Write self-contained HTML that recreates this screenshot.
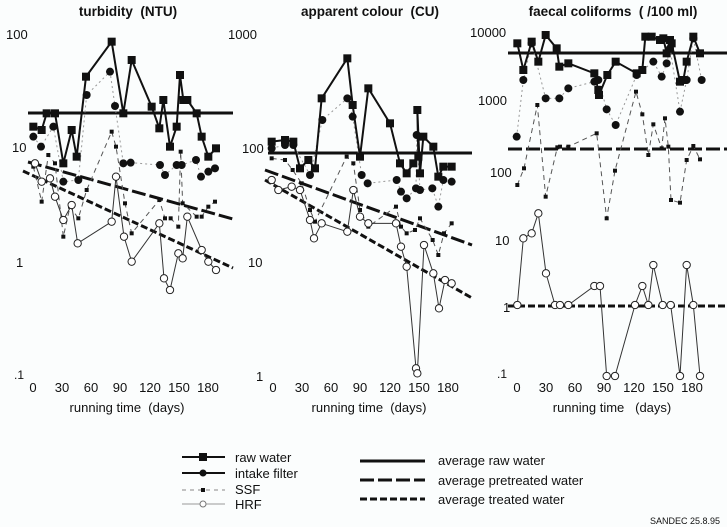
<!DOCTYPE html>
<html><head><meta charset="utf-8"><style>
html,body{margin:0;padding:0;background:#fbfdfd;}
svg{display:block;font-family:"Liberation Sans",Arial,sans-serif;}
text{white-space:pre;}
</style></head><body>
<svg width="727" height="527" viewBox="0 0 727 527" xmlns="http://www.w3.org/2000/svg">
<defs>
<marker id="mR" markerUnits="userSpaceOnUse" markerWidth="30" markerHeight="30" refX="15" refY="15" viewBox="0 0 30 30"><rect x="3" y="3" width="24" height="24" fill="#111"/></marker>
<marker id="mI" markerUnits="userSpaceOnUse" markerWidth="30" markerHeight="30" refX="15" refY="15" viewBox="0 0 30 30"><circle cx="15" cy="15" r="12" fill="#111"/></marker>
<marker id="mS" markerUnits="userSpaceOnUse" markerWidth="30" markerHeight="30" refX="15" refY="15" viewBox="0 0 30 30"><rect x="9" y="9" width="12" height="12" fill="#111"/></marker>
<marker id="mH" markerUnits="userSpaceOnUse" markerWidth="30" markerHeight="30" refX="15" refY="15" viewBox="0 0 30 30"><circle cx="15" cy="15" r="11" fill="#fff" stroke="#222" stroke-width="3"/></marker>
</defs>
<rect width="727" height="527" fill="#fbfdfd"/>
<g font-weight="bold" font-size="13.5" fill="#111" text-anchor="middle">
<text x="128" y="16">turbidity  (NTU)</text>
<text x="370" y="16">apparent colour  (CU)</text>
<text x="613" y="16">faecal coliforms  ( /100 ml)</text>
</g>
<g font-size="13" fill="#111">
<text x="6" y="39">100</text><text x="12" y="152">10</text><text x="16" y="267">1</text><text x="14" y="379" font-size="12">.1</text>
<text x="228" y="39">1000</text><text x="242" y="153">100</text><text x="248" y="267">10</text><text x="256" y="381">1</text>
<text x="470" y="37">10000</text><text x="478" y="105">1000</text><text x="490" y="177">100</text><text x="495" y="245">10</text><text x="503" y="312">1</text><text x="497" y="378" font-size="12">.1</text>
</g>
<g font-size="13" fill="#111" text-anchor="middle">
<text x="33" y="392">0</text><text x="62" y="392">30</text><text x="91" y="392">60</text><text x="120" y="392">90</text><text x="150" y="392">120</text><text x="179" y="392">150</text><text x="208" y="392">180</text>
<text x="273" y="392">0</text><text x="302" y="392">30</text><text x="331" y="392">60</text><text x="360" y="392">90</text><text x="390" y="392">120</text><text x="419" y="392">150</text><text x="448" y="392">180</text>
<text x="517" y="392">0</text><text x="546" y="392">30</text><text x="575" y="392">60</text><text x="604" y="392">90</text><text x="634" y="392">120</text><text x="663" y="392">150</text><text x="692" y="392">180</text>
<text x="127" y="412">running time  (days)</text>
<text x="369" y="412">running time  (days)</text>
<text x="612" y="412">running time   (days)</text>
</g>

<!-- averages -->
<g stroke="#111" stroke-width="3" fill="none">
<line x1="28" y1="113" x2="233" y2="113"/>
<line x1="28" y1="162" x2="233" y2="219" stroke-dasharray="14,4"/>
<line x1="23" y1="171" x2="233" y2="268" stroke-dasharray="7,3"/>
<line x1="268" y1="153" x2="472" y2="153"/>
<line x1="265" y1="170" x2="472" y2="245" stroke-dasharray="14,4"/>
<line x1="265" y1="180" x2="472" y2="298" stroke-dasharray="7,3"/>
<line x1="508" y1="53" x2="727" y2="53"/>
<line x1="508" y1="149" x2="727" y2="149" stroke-dasharray="14,4"/>
<line x1="508" y1="306" x2="727" y2="306" stroke-dasharray="7,3"/>
</g>

<!-- panel 1 -->
<g transform="scale(0.33333)" fill="none">
<polyline stroke="#555" stroke-width="3" stroke-dasharray="15,12" marker-start="url(#mS)" marker-mid="url(#mS)" marker-end="url(#mS)" points="100,500 125,605 145,465 165,490 190,710 210,620 235,655 260,570 335,395 348,440 375,610 395,700 478,600 495,655 512,655 535,680 542,455 548,610 590,650 605,650 625,620 645,605"/>
<polyline stroke="#999" stroke-width="3" stroke-dasharray="6,9" marker-start="url(#mI)" marker-mid="url(#mI)" marker-end="url(#mI)" points="100,410 123,440 160,380 190,545 235,540 260,285 330,215 345,318 370,490 392,488 480,495 495,525 530,495 545,495 588,480 603,530 625,515 645,505"/>
<polyline stroke="#333" stroke-width="3" marker-start="url(#mH)" marker-mid="url(#mH)" marker-end="url(#mH)" points="105,490 125,545 150,535 165,590 190,660 215,615 233,730 335,665 348,530 372,710 395,785 478,670 492,835 510,870 535,760 548,775 562,650 605,750 625,785 648,810"/>
<polyline stroke="#111" stroke-width="6" marker-start="url(#mR)" marker-mid="url(#mR)" marker-end="url(#mR)" points="100,380 125,390 140,340 165,340 190,490 215,390 230,470 258,230 335,125 370,340 395,180 455,320 478,385 490,300 510,440 530,380 540,225 550,300 562,300 590,340 605,410 625,470 648,445"/>
</g>

<!-- panel 2 -->
<g transform="translate(240,0) scale(0.33333)" fill="none">
<polyline stroke="#555" stroke-width="3" stroke-dasharray="15,12" marker-start="url(#mS)" marker-mid="url(#mS)" marker-end="url(#mS)" points="95,475 135,480 158,510 185,550 210,630 225,665 320,470 340,490 360,630 385,680 468,620 483,680 500,700 525,690 540,655 578,720 595,765 612,700 635,670"/>
<polyline stroke="#999" stroke-width="3" stroke-dasharray="6,9" marker-start="url(#mI)" marker-mid="url(#mI)" marker-end="url(#mI)" points="95,445 135,435 160,435 210,525 247,360 322,295 338,350 365,525 383,550 470,540 483,575 500,595 528,565 530,405 540,570 577,565 595,620 610,540 635,545"/>
<polyline stroke="#333" stroke-width="3" marker-start="url(#mH)" marker-mid="url(#mH)" marker-end="url(#mH)" points="95,540 115,570 155,560 180,570 210,660 222,715 245,670 322,695 340,570 360,650 385,670 468,670 483,740 500,800 528,1105 532,1120 552,735 580,820 597,925 615,840 635,850"/>
<polyline stroke="#111" stroke-width="6" marker-start="url(#mR)" marker-mid="url(#mR)" marker-end="url(#mR)" points="95,425 135,420 160,425 180,505 205,480 225,505 245,295 322,175 338,315 360,470 385,265 450,370 480,490 500,520 520,490 535,470 532,330 540,520 550,410 580,440 595,530 610,500 635,500"/>
</g>

<!-- panel 3 -->
<g transform="translate(480,0) scale(0.33333)" fill="none">
<polyline stroke="#555" stroke-width="3" stroke-dasharray="15,12" marker-start="url(#mS)" marker-mid="url(#mS)" marker-end="url(#mS)" points="112,555 132,505 172,315 197,590 232,442 240,440 265,440 350,400 380,655 405,512 468,275 487,343 505,465 520,373 545,445 555,355 565,440 573,600 600,608 620,480 640,438 660,478"/>
<polyline stroke="#999" stroke-width="3" stroke-dasharray="6,9" marker-start="url(#mI)" marker-mid="url(#mI)" marker-end="url(#mI)" points="110,410 130,240 155,130 197,295 238,295 265,265 343,245 355,240 380,328 407,375 470,225 520,185 545,230 560,190 570,145 600,335 620,240 640,115 665,240"/>
<polyline stroke="#333" stroke-width="3" marker-start="url(#mH)" marker-mid="url(#mH)" marker-end="url(#mH)" points="112,915 130,715 155,700 175,640 198,820 225,915 240,915 265,915 343,858 360,858 380,1128 405,1128 465,915 487,858 505,915 520,795 548,915 572,915 600,1128 620,795 640,915 660,1128"/>
<polyline stroke="#111" stroke-width="6" marker-start="url(#mR)" marker-mid="url(#mR)" marker-end="url(#mR)" points="112,130 130,210 155,125 175,185 197,105 230,145 238,200 265,190 343,220 355,270 357,285 382,225 407,185 470,220 487,210 496,110 515,110 540,120 550,115 560,160 570,120 575,130 600,245 610,240 620,185 640,110 660,160"/>
</g>

<!-- legend -->
<g stroke="#111">
<line x1="182" y1="457" x2="225" y2="457" stroke-width="2"/>
<line x1="182" y1="473" x2="225" y2="473" stroke-width="2"/>
<line x1="182" y1="490" x2="225" y2="490" stroke-width="1" stroke-dasharray="4,4" stroke="#888"/>
<line x1="182" y1="504" x2="225" y2="504" stroke-width="1" stroke="#999"/>
<line x1="360" y1="461" x2="425" y2="461" stroke-width="3"/>
<line x1="360" y1="480" x2="425" y2="480" stroke-width="3" stroke-dasharray="14,4"/>
<line x1="360" y1="499" x2="425" y2="499" stroke-width="3" stroke-dasharray="7,3"/>
</g>
<rect x="199" y="453" width="8" height="8" fill="#111"/>
<circle cx="203" cy="473" r="3.5" fill="#111"/>
<rect x="201" y="488" width="4" height="4" fill="#111"/>
<circle cx="203" cy="504" r="3" fill="#fff" stroke="#777"/>
<g font-size="13" fill="#111">
<text x="235" y="462">raw water</text>
<text x="235" y="478">intake filter</text>
<text x="235" y="494">SSF</text>
<text x="235" y="509">HRF</text>
<text x="438" y="465">average raw water</text>
<text x="438" y="485">average pretreated water</text>
<text x="438" y="504">average treated water</text>
<text x="650" y="524" font-size="9">SANDEC 25.8.95</text>
</g>
</svg>
</body></html>
